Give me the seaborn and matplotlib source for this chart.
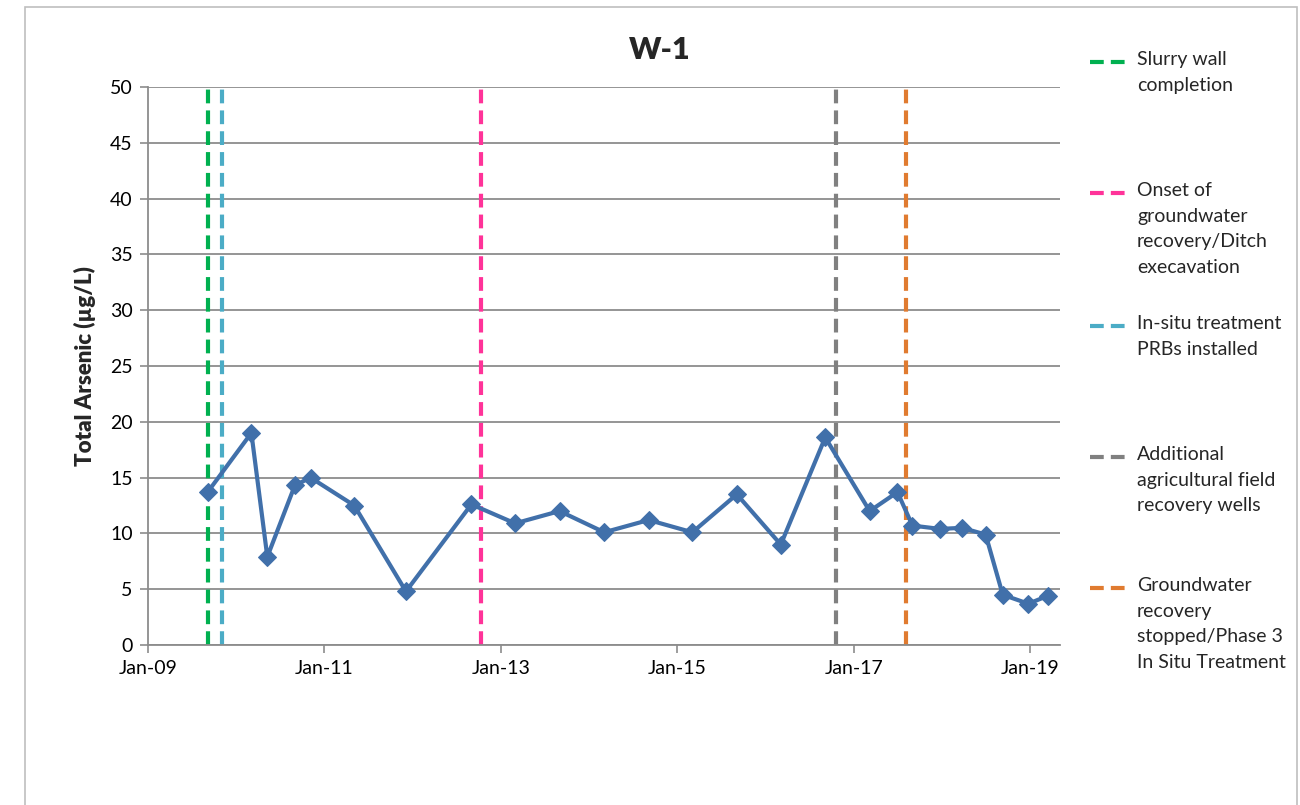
import matplotlib
matplotlib.use("Agg")
import matplotlib.pyplot as plt
import matplotlib.dates as mdates
from matplotlib.lines import Line2D
from matplotlib.patches import Rectangle
import seaborn as sns
import pandas as pd

sample_dates = ["2009-09-05", "2010-03-05", "2010-05-10", "2010-09-01", "2010-11-05",
                "2011-05-05", "2011-12-05", "2012-09-01", "2013-03-01", "2013-09-01",
                "2014-03-05", "2014-09-05", "2015-03-05", "2015-09-05", "2016-03-05",
                "2016-09-05", "2017-03-08", "2017-07-01", "2017-09-01", "2017-12-25",
                "2018-03-25", "2018-07-01", "2018-09-10", "2018-12-25", "2019-03-15"]
arsenic = [13.7, 19.0, 7.9, 14.3, 15.0, 12.5, 4.8, 12.6, 10.9, 12.0, 10.1, 11.2, 10.1,
           13.5, 9.0, 18.6, 12.0, 13.7, 10.7, 10.4, 10.5, 9.9, 4.5, 3.7, 4.4]

event_dates = ["2009-09-05", "2012-10-10", "2009-11-05", "2016-10-20", "2017-08-05"]
event_labels = ["Slurry wall\ncompletion",
                "Onset of\ngroundwater\nrecovery/Ditch\nexecavation",
                "In-situ treatment\nPRBs installed",
                "Additional\nagricultural field\nrecovery wells",
                "Groundwater\nrecovery\nstopped/Phase 3\nIn Situ Treatment"]
event_colors = ["#00B050", "#FF3399", "#4BACC6", "#808080", "#E07B30"]

x_ticks = ["2009-01-01", "2011-01-01", "2013-01-01", "2015-01-01", "2017-01-01", "2019-01-01"]
y_ticks = [0, 5, 10, 15, 20, 25, 30, 35, 40, 45, 50]

sns.set_theme(style="white")
plt.rcParams['font.family'] = ['Lato', 'DejaVu Sans']

df = pd.DataFrame({"date": pd.to_datetime(sample_dates), "value": arsenic})

fig = plt.figure(figsize=(13, 8.05), dpi=100)
ax = fig.add_axes([148/1300, 1-645/805, (1060-148)/1300, (645-87)/805])

fig.patches.append(Rectangle((25/1300, -0.01), (1297-25)/1300, 1-7/805+0.01,
                             transform=fig.transFigure, fill=False,
                             edgecolor="#BFBFBF", linewidth=1.2))

for ed, col in zip(event_dates, event_colors):
    ax.axvline(pd.Timestamp(ed), color=col, linewidth=3, linestyle=(0, (3.3, 1.7)), zorder=2)

sns.lineplot(data=df, x="date", y="value", ax=ax, color="#4170AA", linewidth=3,
             marker="D", markersize=9, markeredgecolor="#4170AA", zorder=3)

ax.set_xlim(pd.Timestamp("2009-01-01"), pd.Timestamp("2019-05-05"))
ax.set_ylim(0, 50)
ax.set_yticks(y_ticks)
ax.set_xticks(pd.to_datetime(x_ticks))
ax.xaxis.set_major_formatter(mdates.DateFormatter("%b-%y"))
ax.yaxis.grid(True, color="#8C8C8C", linewidth=1.3)
ax.xaxis.grid(False)
ax.tick_params(axis="both", labelsize=14, labelcolor="#000000", color="#8C8C8C",
               length=6, width=1.2, direction="out", bottom=True, left=True, pad=5)
for s in ["top", "right"]:
    ax.spines[s].set_visible(False)
for s in ["left", "bottom"]:
    ax.spines[s].set_color("#8C8C8C")
    ax.spines[s].set_linewidth(1.3)
ax.set_xlabel("")
ax.set_ylabel("Total Arsenic (µg/L)", fontsize=16, fontweight="heavy", labelpad=10)

fig.text(660/1300, 1-50/805, "W-1", fontsize=22, fontweight="heavy", ha="center", va="center")

slot_tops = [62, 193, 326, 457, 588]
for i, top in enumerate(slot_tops):
    yf = 1 - top/805
    fig.lines.append(Line2D([1090/1300, 1128/1300], [yf, yf], transform=fig.transFigure,
                            color=event_colors[i], linewidth=3, linestyle=(0, (3.3, 1.7))))
    fig.text(1137/1300, yf + 11/805, event_labels[i], fontsize=14, ha="left", va="top",
             linespacing=1.62)

fig.savefig("out.png", dpi=100)
